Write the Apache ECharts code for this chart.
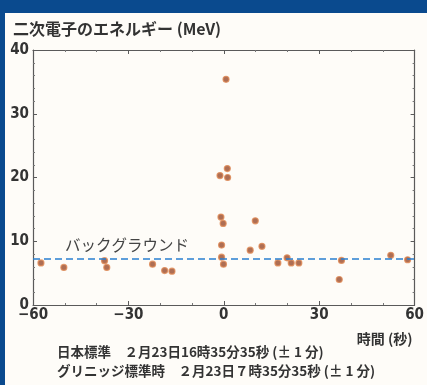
<!DOCTYPE html>
<html><head><meta charset="utf-8">
<script src="https://cdn.jsdelivr.net/npm/echarts@6/dist/echarts.min.js"></script>
<style>
html,body{margin:0;padding:0;width:427px;height:385px;background:#0a4a8e;overflow:hidden}
#panel{position:absolute;left:5px;top:13px;width:422px;height:372px;background:#fefcf8}
#c{position:absolute;left:0;top:0;width:427px;height:385px}
</style></head><body>
<div id="panel"></div>
<div id="c"></div>
<script>
const times  = [-57.5,-50.3,-37.5,-36.8,-22.4,-18.6,-16.3,0.7,1.1,-1.2,1.2,-0.9,-0.2,9.9,-0.7,8.3,12.0,-0.7,-0.1,17.0,19.9,21.2,23.6,36.3,37.0,52.5,57.8];
const energy = [6.6,5.9,6.95,5.9,6.4,5.4,5.3,35.4,21.4,20.3,20.0,13.8,12.8,13.2,9.4,8.6,9.2,7.5,6.4,6.6,7.4,6.6,6.6,4.0,7.0,7.8,7.1];
const background = 7.3;
const xTicks = [-60,-30,0,30,60];
const yTicks = [0,10,20,30,40];
const titleText = '二次電子のエネルギー (MeV)';
const xName = '時間 (秒)';
const bgLabel = 'バックグラウンド';
const note1 = '日本標準　２月23日16時35分35秒 (± 1 分)';
const note2 = 'グリニッジ標準時　２月23日７時35分35秒 (± 1 分)';

const chart = echarts.init(document.getElementById('c'), null, {renderer:'canvas'});
const font = '"Noto Sans CJK JP", sans-serif';
const numFont = '"Liberation Sans Narrow","DejaVu Sans Condensed",sans-serif';
const axisCommon = {
  axisLine:{show:true,onZero:false,lineStyle:{color:'#5a5a5a',width:1.2}},
  splitLine:{show:false}
};
chart.setOption({
  backgroundColor:'transparent',
  animation:false,
  textStyle:{fontFamily:font},
  title:{text:titleText,left:8,top:16,textStyle:{fontSize:16,fontWeight:'bold',color:'#333',fontFamily:font}},
  grid:{left:33,right:9,top:50,bottom:80,containLabel:false},
  xAxis:[{
    type:'value',min:-60,max:60,interval:30,position:'bottom',
    ...axisCommon,
    axisTick:{show:true,inside:true,length:4,lineStyle:{color:'#5a5a5a'}},
    minorTick:{show:true,splitNumber:3,length:2,lineStyle:{color:'#777'}},
    axisLabel:{color:'#333',fontSize:15,fontWeight:'bold',margin:3,fontFamily:numFont,
      formatter:v=>xTicks.includes(v)?(v<0?'−'+Math.abs(v):String(v)):''},
    name:xName,nameLocation:'end',nameGap:0,
    nameTextStyle:{color:'#333',fontSize:14,fontWeight:'bold',align:'right',verticalAlign:'top',padding:[27,2,0,0],fontFamily:font}
  },{
    type:'value',min:-60,max:60,interval:30,position:'top',
    ...axisCommon,
    axisTick:{show:true,inside:true,length:4,lineStyle:{color:'#5a5a5a'}},
    minorTick:{show:true,splitNumber:3,length:2,lineStyle:{color:'#777'}},
    axisLabel:{show:false}
  }],
  yAxis:[{
    type:'value',min:0,max:40,interval:10,position:'left',
    ...axisCommon,
    axisTick:{show:true,inside:true,length:4,lineStyle:{color:'#5a5a5a'}},
    minorTick:{show:true,splitNumber:5,length:2,lineStyle:{color:'#777'}},
    axisLabel:{color:'#333',fontSize:15,fontWeight:'bold',margin:4,fontFamily:numFont,
      formatter:v=>yTicks.includes(v)?String(v):''}
  },{
    type:'value',min:0,max:40,interval:10,position:'right',
    ...axisCommon,
    axisTick:{show:true,inside:true,length:4,lineStyle:{color:'#5a5a5a'}},
    minorTick:{show:true,splitNumber:5,length:2,lineStyle:{color:'#777'}},
    axisLabel:{show:false}
  }],
  series:[{
    type:'scatter',
    data:times.map((t,i)=>[t,energy[i]]),
    symbolSize:6,
    itemStyle:{color:'#9a4a2a',borderColor:'#e08a55',borderWidth:1.2},
    markLine:{
      silent:true,symbol:'none',
      lineStyle:{color:'#2a7fd0',type:[7,4],width:1.6},
      label:{show:true,formatter:bgLabel,position:'insideStartTop',distance:[32,6],color:'#444',fontSize:15.5,fontFamily:font},
      data:[{yAxis:background}]
    }
  }],
  graphic:[
    {type:'text',left:57,top:345,style:{text:note1,fill:'#333',font:'bold 13.5px '+font}},
    {type:'text',left:57,top:364,style:{text:note2,fill:'#333',font:'bold 13.5px '+font}}
  ]
});
</script></body></html>
